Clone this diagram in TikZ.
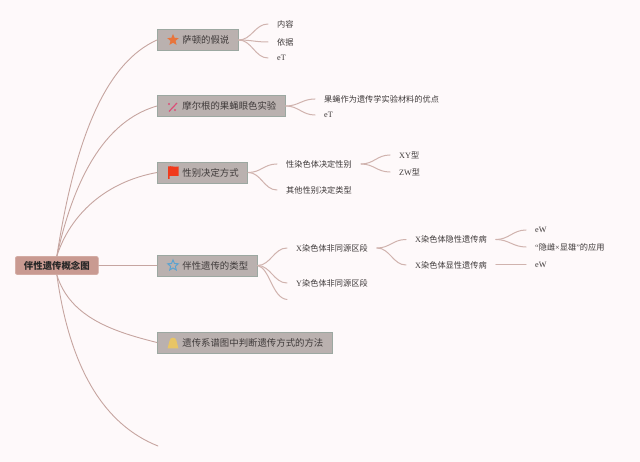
\documentclass[tikz,border=0pt]{standalone}
\usepackage{fontspec}
\setmainfont{Liberation Serif}
\newfontfamily\cjk{Noto Sans CJK SC}
\usetikzlibrary{shapes.geometric}
\definecolor{bg}{HTML}{FEF9FA}
\definecolor{boxfill}{HTML}{BAB1AF}
\definecolor{boxline}{HTML}{9CA8A1}
\definecolor{rootfill}{HTML}{C99A91}
\definecolor{rootline}{HTML}{D3ABA3}
\definecolor{wire}{HTML}{C6A5A0}
\definecolor{forkwire}{HTML}{D0B3AE}
\definecolor{ink}{HTML}{3F3A3A}
\definecolor{iconorange}{HTML}{E8743B}
\definecolor{iconblue}{HTML}{5BA3D0}
\definecolor{iconyellow}{HTML}{E8C566}
\definecolor{iconred}{HTML}{F03A1C}
\definecolor{iconpink}{HTML}{DB4F78}
\tikzset{
  branchbox/.style={draw=boxline,line width=0.7pt,fill=boxfill,anchor=west,minimum height=21pt,inner xsep=9pt,inner ysep=0pt,font=\fontsize{9.4pt}{11pt}\selectfont\cjk,text=ink},
  rootbox/.style={draw=rootline,line width=0.7pt,fill=rootfill,rounded corners=2pt,anchor=west,minimum height=18pt,minimum width=83pt,inner sep=0pt,font=\fontsize{9.4pt}{11pt}\selectfont\cjk\bfseries,text=black!85},
  leaf/.style={anchor=west,inner xsep=9pt,inner ysep=0pt,font=\fontsize{8.2pt}{10pt}\selectfont,text=ink},
  wirepath/.style={draw=wire,line width=0.9pt,line cap=round},
  fork/.style={draw=forkwire,line width=1pt,line cap=round},
  starmark/.style={star,star points=5,star point ratio=2.2,minimum size=12pt,inner sep=0pt}
}
\newcommand{\gap}{\hspace*{16pt}}
\begin{document}
\begin{tikzpicture}[x=1pt,y=-1pt]
\useasboundingbox (0,0) rectangle (640,462);
\fill[bg] (0,0) rectangle (640,462);
% main nodes
\node[rootbox] (root) at (15,265.5) {伴性遗传概念图};
\node[branchbox] (b1) at (157,40) {\gap 萨顿的假说};
\node[branchbox] (b2) at (157,106) {\gap 摩尔根的果蝇眼色实验};
\node[branchbox] (b3) at (157,172.5) {\gap 性别决定方式};
\node[branchbox] (b4) at (157,265.5) {\gap 伴性遗传的类型};
\node[branchbox] (b5) at (157,342.5) {\gap 遗传系谱图中判断遗传方式的方法};
\coordinate (b6) at (158,446);
% leaves
\node[leaf] (a1) at (268,24) {\cjk 内容};
\node[leaf] (a2) at (268,42) {\cjk 依据};
\node[leaf] (a3) at (268,58) {eT};
\node[leaf] (c1) at (315,99) {\cjk 果蝇作为遗传学实验材料的优点};
\node[leaf] (c2) at (315,115) {eT};
\node[leaf] (d1) at (277,164) {\cjk 性染色体决定性别};
\node[leaf] (d2) at (277,190) {\cjk 其他性别决定类型};
\node[leaf] (d3) at (390,155) {XY\cjk 型};
\node[leaf] (d4) at (390,172) {ZW\cjk 型};
\node[leaf] (e1) at (287,248) {X\cjk 染色体非同源区段};
\node[leaf] (e2) at (287,283) {Y\cjk 染色体非同源区段};
\coordinate (e3) at (287,299.5);
\node[leaf] (f1) at (406,239.5) {X\cjk 染色体隐性遗传病};
\node[leaf] (f2) at (406,265) {X\cjk 染色体显性遗传病};
\node[leaf] (g1) at (526,230) {eW};
\node[leaf] (g2) at (526,247) {“{\cjk 隐雌}×{\cjk 显雄}”{\cjk 的应用}};
\node[leaf] (g3) at (526,265) {eW};
% root connectors
\draw[wirepath] (root.north) .. controls (76,132) and (108,62) .. (b1.west);
\draw[wirepath] (root.north) .. controls (78,160) and (115,118) .. (b2.west);
\draw[wirepath] (root.north) .. controls (70,215) and (105,182) .. (b3.west);
\draw[wirepath] (root.east) -- (b4.west);
\draw[wirepath] (root.south) .. controls (70,318) and (115,332) .. (b5.west);
\draw[wirepath] (root.south) .. controls (70,370) and (105,425) .. (b6);
% forks
\foreach \from/\to in {b1/a1,b1/a2,b1/a3,b2/c1,b2/c2,b3/d1,b3/d2,d1/d3,d1/d4,b4/e1,b4/e2,e1/f1,e1/f2,f1/g1,f1/g2}
  \draw[fork] (\from.east) .. controls +(13,0) and +(-13,0) .. (\to.west);
\draw[fork] (b4.east) .. controls (270,268) and (272,298) .. (e3);
\draw[fork] (f2.east) -- (g3.west);
% icons
\node[starmark,fill=iconorange] (i1) at (173,40) {};
\node[starmark,draw=iconblue,line width=1pt,minimum size=11pt] (i4) at (173,265.5) {};
\fill[iconred] (168,166.5) .. controls (171,165.5) and (175,167.5) .. (178.5,166.5) -- (178.5,176) .. controls (175,177) and (172,175) .. (169.5,176) -- (169.5,179) -- (168,179) -- cycle;
\draw[line width=1.2pt,draw=iconpink] (169,111.5) -- (177,103);
\fill[iconpink] (175,110) circle (1.2) (169,104) circle (1.2);
\fill[iconyellow] (167.5,348.5) -- (169.5,341) .. controls (170,336.5) and (176,336.5) .. (176.5,341) -- (178.5,348.5) -- cycle;
\end{tikzpicture}
\end{document}
